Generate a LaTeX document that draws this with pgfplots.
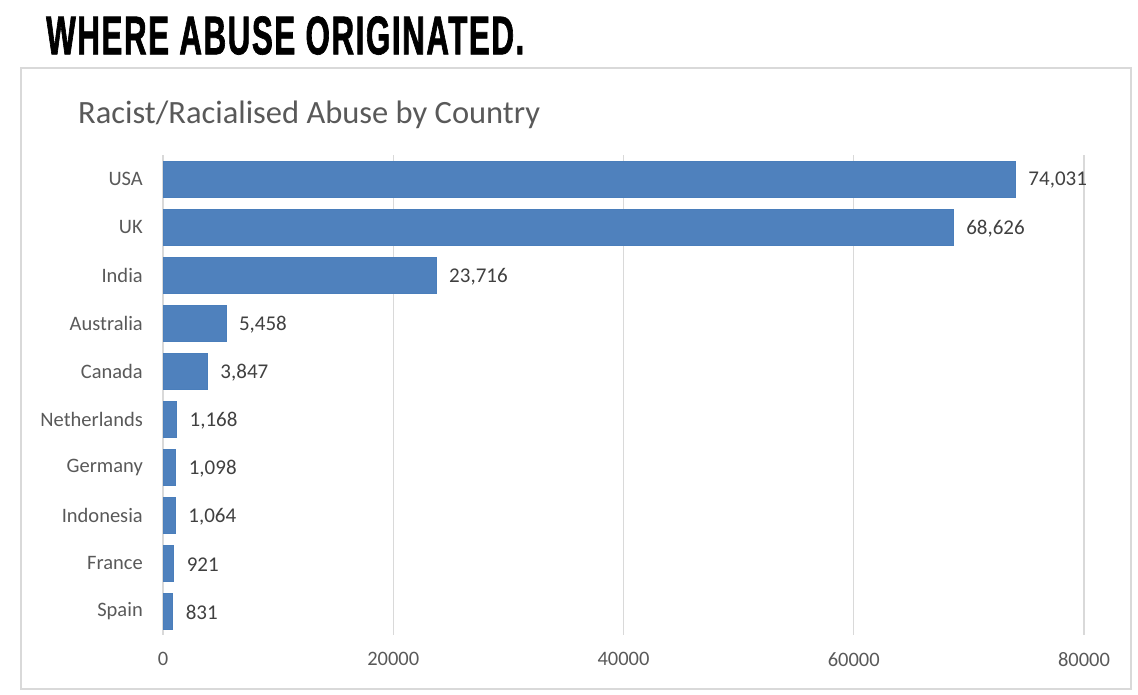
\documentclass[border=0pt]{standalone}
\usepackage{graphicx}
\usepackage{fontspec}
\setmainfont{Carlito}
\newfontfamily\headfont[FakeStretch=0.6, FakeBold=1.2, LetterSpace=3]{Liberation Sans}
\usepackage{pgfplots}
\pgfplotsset{compat=1.18}

\definecolor{barblue}{HTML}{4F81BD}
\definecolor{baredge}{HTML}{4A7EBB}
\definecolor{gridgray}{HTML}{D9D9D9}
\definecolor{txtgray}{HTML}{595959}
\definecolor{valgray}{HTML}{404040}

\begin{document}
\begin{tikzpicture}
% page frame in px-like points
\path (0pt,0pt) rectangle (1138pt,-694pt);
% headline
\node[anchor=south west, inner sep=0pt] at (46pt,-55pt)
  {\resizebox{478pt}{38pt}{\headfont\bfseries WHERE ABUSE ORIGINATED.}};
% chart frame
\draw[gridgray, line width=2pt] (21pt,-68pt) rectangle (1131pt,-689pt);
% chart title
\node[anchor=base west, inner sep=0pt, text=txtgray, font=\fontsize{32.5}{33}\selectfont]
  at (78pt,-123pt) {Racist/Racialised Abuse by Country};

\begin{axis}[
  at={(163pt,-635pt)}, anchor=south west,
  scale only axis, width=921pt, height=480pt,
  xbar, bar width=36pt,
  xmin=0, xmax=80000,
  ymin=-0.5, ymax=9.5, y dir=reverse,
  xtick={0,20000,40000,60000,80000},
  scaled ticks=false,
  ytick={0,...,9},
  yticklabels={USA,UK,India,Australia,Canada,Netherlands,Germany,Indonesia,France,Spain},
  xmajorgrids, major grid style={gridgray, line width=1.2pt},
  axis line style={draw=none},
  major tick length=0pt,
  /pgf/number format/assume math mode=true,
  xticklabel style={text=txtgray, font=\fontsize{20.5}{21}\selectfont, anchor=north, inner sep=0pt, yshift=-17pt,
    /pgf/number format/1000 sep={}},
  yticklabel style={text=txtgray, font=\fontsize{20.5}{21}\selectfont, anchor=east, inner sep=0pt, xshift=-20pt},
  nodes near coords={\pgfmathprintnumber[fixed, precision=0, 1000 sep={,}]{\pgfplotspointmeta}},
  every node near coord/.append style={text=valgray, font=\fontsize{21}{22}\selectfont, anchor=west, inner sep=0pt, xshift=13pt, yshift=-1.5pt},
  clip=false,
]
\addplot[fill=barblue, draw=baredge] coordinates {
  (74031,0) (68626,1) (23716,2) (5458,3) (3847,4)
  (1168,5) (1098,6) (1064,7) (921,8) (831,9)
};
\end{axis}
\end{tikzpicture}
\end{document}
